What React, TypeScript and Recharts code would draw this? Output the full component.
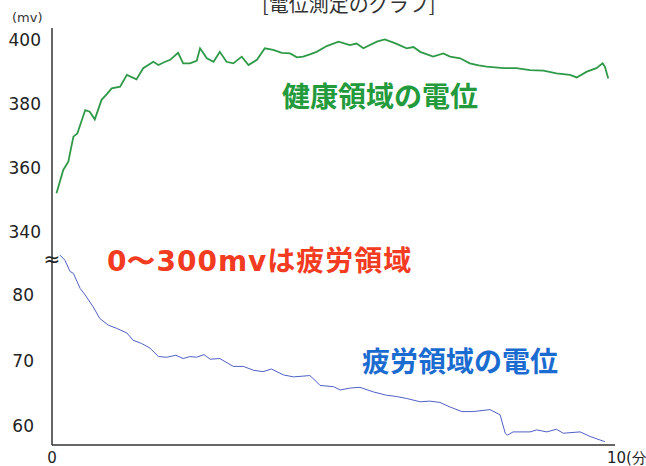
import { Line, LineChart, ReferenceDot, ReferenceLine, XAxis, YAxis } from "recharts";

// time in minutes / potential in mv
const greenT = [0.08, 0.2, 0.29, 0.38, 0.45, 0.59, 0.67, 0.76, 0.88, 0.97, 1.06, 1.21, 1.33, 1.5, 1.62, 1.8, 1.89, 2.01, 2.1, 2.24, 2.33, 2.45, 2.57, 2.63, 2.75, 2.87, 2.98, 3.1, 3.22, 3.37, 3.49, 3.64, 3.78, 3.93, 4.08, 4.23, 4.35, 4.46, 4.58, 4.7, 4.88, 5.09, 5.29, 5.41, 5.53, 5.77, 5.91, 6.09, 6.3, 6.42, 6.54, 6.77, 6.95, 7.07, 7.25, 7.42, 7.58, 7.72, 8.02, 8.25, 8.49, 8.73, 8.96, 9.2, 9.32, 9.5, 9.67, 9.78, 9.82, 9.88];
const greenMv = [352.1, 359.4, 362.0, 369.8, 370.8, 378.1, 377.6, 375.2, 381.3, 383.0, 384.9, 385.4, 389.1, 387.7, 391.2, 393.2, 392.2, 393.2, 393.8, 396.0, 392.7, 392.7, 393.5, 397.4, 394.3, 393.2, 396.3, 393.2, 392.7, 394.8, 392.2, 393.8, 397.4, 396.9, 396.0, 395.8, 394.6, 394.8, 395.5, 396.3, 398.1, 399.5, 398.4, 398.9, 397.4, 399.5, 400.2, 399.0, 397.4, 397.8, 396.3, 394.8, 395.8, 394.8, 394.3, 392.7, 392.1, 391.7, 391.2, 391.2, 390.6, 390.4, 389.6, 389.1, 388.3, 390.1, 391.2, 392.7, 391.7, 388.0];

const blueT = [0.14, 0.23, 0.32, 0.38, 0.5, 0.59, 0.73, 0.85, 1.0, 1.15, 1.33, 1.44, 1.59, 1.74, 1.89, 2.04, 2.2, 2.33, 2.45, 2.57, 2.7, 2.81, 2.98, 3.22, 3.4, 3.58, 3.75, 3.9, 4.11, 4.29, 4.58, 4.67, 4.76, 5.0, 5.12, 5.3, 5.47, 5.71, 5.94, 6.12, 6.3, 6.54, 6.71, 6.89, 7.07, 7.28, 7.48, 7.78, 7.96, 8.05, 8.09, 8.19, 8.49, 8.61, 8.79, 8.96, 9.08, 9.38, 9.56, 9.82];
const blueMv = [86.1, 85.3, 83.6, 83.3, 81.0, 80.0, 78.2, 76.4, 75.4, 74.9, 74.2, 73.1, 72.6, 71.9, 70.6, 70.5, 70.8, 70.3, 70.6, 70.5, 70.9, 70.2, 70.3, 69.1, 69.1, 68.5, 68.3, 68.7, 67.8, 67.5, 67.7, 67.0, 66.2, 66.0, 65.5, 65.8, 65.9, 65.2, 64.7, 64.5, 64.2, 63.7, 63.8, 63.6, 62.9, 62.2, 62.2, 62.5, 61.7, 58.9, 58.6, 59.1, 59.1, 59.4, 59.1, 59.5, 58.9, 59.1, 58.4, 57.6];

const upperTicks = [400, 380, 360, 340];
const lowerTicks = [60, 70, 80];
const xTicks = [0, 10];

const greenData = greenT.map((t, i) => ({ t, v: greenMv[i] }));
const blueData = blueT.map((t, i) => ({ t, v: blueMv[i] }));

const NUM_FONT = "'DejaVu Sans', sans-serif";
const JP_FONT = "'Noto Sans CJK JP', sans-serif";

const XTick = (props: any) => {
  const { x, y, payload } = props;
  const last = payload.value === 10;
  return (
    <text x={last ? x - 8 : x} y={y + 10} textAnchor={last ? "start" : "middle"}
      fontFamily={NUM_FONT} fontSize={15} fill="#222">
      {last ? "10(分)" : "0"}
    </text>
  );
};

const BreakMark = (props: any) => (
  <text x={props.cx} y={props.cy + 6} textAnchor="middle" fontFamily={NUM_FONT} fontSize={20} fill="#222">≈</text>
);

export default function App() {
  return (
    <div style={{ position: "absolute", left: 0, top: 0, width: 646, height: 466, background: "#fff" }}>
      <LineChart width={646} height={466} margin={{ top: 28, right: 31, left: 0, bottom: 0 }}>
        <XAxis dataKey="t" type="number" domain={[0, 10]} ticks={xTicks} tick={<XTick />}
          tickLine={false} axisLine={{ stroke: "#333", strokeWidth: 1.5 }} height={21} allowDuplicatedCategory={false} />
        <YAxis yAxisId="low" type="number" domain={[57.1, 120.76]} ticks={lowerTicks} allowDataOverflow
          width={52} tickLine={false} axisLine={{ stroke: "#333", strokeWidth: 1.5 }} tickMargin={12}
          tick={{ fontFamily: NUM_FONT, fontSize: 17, fill: "#222" }} />
        <YAxis yAxisId="up" type="number" domain={[273.44, 403.75]} allowDataOverflow hide />
        {upperTicks.map(v => (
          <ReferenceLine key={v} yAxisId="up" y={v} stroke="none"
            label={{ value: String(v), position: "left", offset: 11, fontFamily: NUM_FONT, fontSize: 17, fill: "#222" }} />
        ))}
        <ReferenceDot yAxisId="low" x={0} y={85.3} r={0} shape={<BreakMark />} />
        <Line yAxisId="up" data={greenData} dataKey="v" type="linear" stroke="#2e9a48" strokeWidth={1.8}
          dot={false} isAnimationActive={false} />
        <Line yAxisId="low" data={blueData} dataKey="v" type="linear" stroke="#5060c4" strokeWidth={1}
          dot={false} isAnimationActive={false} />
      </LineChart>
      <div style={{ position: "absolute", left: 262, top: -11, fontFamily: JP_FONT, fontSize: 20, color: "#333", whiteSpace: "nowrap" }}>
        [電位測定のグラフ]
      </div>
      <div style={{ position: "absolute", left: 12, top: 10, fontFamily: NUM_FONT, fontSize: 13, color: "#333" }}>(mv)</div>
      <div style={{ position: "absolute", left: 282, top: 75, fontFamily: JP_FONT, fontWeight: 700, fontSize: 28, color: "#239a3c", whiteSpace: "nowrap" }}>
        健康領域の電位
      </div>
      <div style={{ position: "absolute", left: 107, top: 239, fontFamily: JP_FONT, fontWeight: 700, fontSize: 28, color: "#f23b20", whiteSpace: "nowrap", letterSpacing: 1 }}>
        <span style={{ fontFamily: "'DejaVu Sans', sans-serif" }}>0〜300mv</span>は疲労領域
      </div>
      <div style={{ position: "absolute", left: 362, top: 340, fontFamily: JP_FONT, fontWeight: 700, fontSize: 28, color: "#1b6cd0", whiteSpace: "nowrap" }}>
        疲労領域の電位
      </div>
    </div>
  );
}
